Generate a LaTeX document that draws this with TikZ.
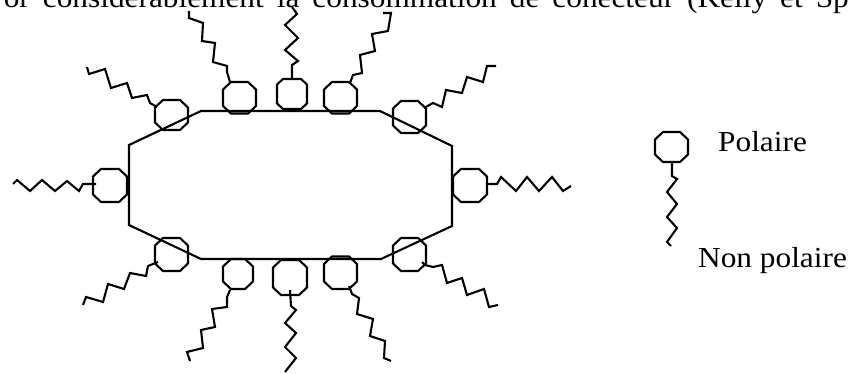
\documentclass[tikz,border=0pt]{standalone}
\usepackage{fontspec}
\setmainfont{Liberation Serif}[FakeStretch=1.08]

% octagonal polar head inside the box (x1,y1)-(x2,y2); optional arg = corner cut
\newcommand\polarhead[5][8]{%
  \draw[bond] (#2+#1,#3) -- (#4-#1,#3) -- (#4,#3+#1-0.5) -- (#4,#5-#1+0.5)
    -- (#4-#1,#5) -- (#2+#1,#5) -- (#2,#5-#1+0.5) -- (#2,#3+#1-0.5) -- cycle;}

\begin{document}
\begin{tikzpicture}[x=1pt,y=-1pt,
  bond/.style={line width=2.1pt, line join=miter},
  label/.style={inner sep=0pt, font=\fontsize{29}{31}\selectfont}]
\useasboundingbox (0,0) rectangle (854,374);

% running text line above the figure
\node[label, anchor=base east] (textline) at (849,7.5)
  {or\hskip13pt considérablement\hskip13pt la\hskip13pt consommation\hskip13pt de\hskip13pt conecteur\hskip13pt (Kelly\hskip13pt et\hskip13pt Sp};

% micelle outline
\draw[bond] (129,145) -- (201,111) -- (380,111) -- (452,146) -- (452,226)
  -- (381,259) -- (201,259) -- (129,225) -- cycle;

% polar heads
\polarhead{155}{100}{188}{130}
\polarhead{223}{82}{256}{113.5}
\polarhead[6]{277}{79}{307}{109}
\polarhead{324}{82}{357}{113.5}
\polarhead{393}{101}{426}{133}
\polarhead{453}{169}{487}{202}
\polarhead{93}{169}{127}{202}
\polarhead{155}{238}{188}{271}
\polarhead{223}{259}{253}{289}
\polarhead{273}{260}{307}{295}
\polarhead{324}{256.5}{357}{289}
\polarhead{393}{238}{426}{271}

% non-polar tails
\draw[bond] (157,107) -- (150,103) -- (147,95) -- (132,98) -- (127,83) -- (111,88) -- (105,69) -- (89,74) -- (87,67);
\draw[bond] (230,82) -- (227,72) -- (227,66) -- (213,62) -- (215,43) -- (202,41) -- (203,23) -- (189,18) -- (189,11);
\draw[bond] (292,79) -- (292,65) -- (298,61) -- (285,50) -- (298,38) -- (285,25) -- (297,14) -- (292,7);
\draw[bond] (350,83) -- (353,75) -- (362,73) -- (360,55) -- (375,51) -- (372,34) -- (388,31) -- (391,13) -- (383,13);
\draw[bond] (424,108) -- (433,103) -- (442,107) -- (446,90) -- (462,93) -- (467,77) -- (483,82) -- (487,66) -- (496,66);
\draw[bond] (487,184) -- (497,184) -- (501,177) -- (516,191) -- (527,177) -- (539,191) -- (552,177) -- (563,191) -- (571,186);
\draw[bond] (96,184) -- (83,184) -- (79,191) -- (67,181) -- (55,191) -- (42,180) -- (30,191) -- (17,180) -- (13,184);
\draw[bond] (158,262) -- (148,266) -- (146,276) -- (130,273) -- (124,289) -- (108,284) -- (103,302) -- (86,297) -- (83,305);
\draw[bond] (230,290) -- (227,297) -- (227,307) -- (212,309) -- (215,327) -- (201,330) -- (203,348) -- (187,352) -- (190,361);
\draw[bond] (290,290) -- (291,306) -- (296,310) -- (285,323) -- (296,333) -- (285,347) -- (296,358) -- (285,372);
\draw[bond] (349,286) -- (352,294) -- (359,298) -- (357,314) -- (373,319) -- (370,336) -- (385,341) -- (384,358) -- (391,361);
\draw[bond] (422,262) -- (425,265) -- (433,267) -- (442,265) -- (447,283) -- (462,278) -- (467,295) -- (484,289) -- (489,307) -- (498,305);

% legend
\polarhead{655}{132}{688}{162}
\draw[bond] (672,162) -- (672,176) -- (677,179) -- (667,192) -- (677,204) -- (667,217) -- (677,228) -- (667,242) -- (671,246);
\node[label, anchor=base west] (polar) at (718,152) {Polaire};
\node[label, anchor=base west] (nonpolar) at (698,267) {Non polaire};
\end{tikzpicture}
\end{document}
